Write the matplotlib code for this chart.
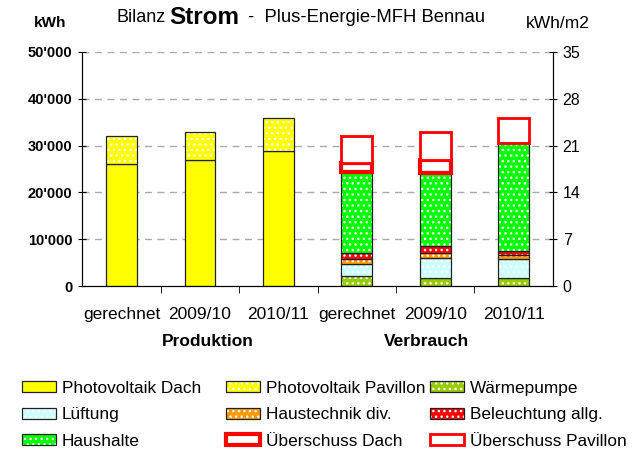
import matplotlib as mpl
mpl.use("Agg")
import numpy as np
from matplotlib import pyplot as plt
from matplotlib.patches import Patch
from matplotlib.legend_handler import HandlerTuple
from matplotlib.ticker import FuncFormatter

mpl.rcParams.update({"font.family": ["Liberation Sans", "DejaVu Sans"],
                     "hatch.linewidth": 1.0})

# categories
labels = ["gerechnet", "2009/10", "2010/11", "gerechnet", "2009/10", "2010/11"]
groups = ["Produktion", "Verbrauch"]

# production (kWh)
pv_dach = [26100, 26900, 28800, 0, 0, 0]
pv_pavillon = [5900, 6100, 7000, 0, 0, 0]

# consumption (kWh)
waermepumpe = [0, 0, 0, 2200, 1650, 1750]
lueftung = [0, 0, 0, 2450, 4300, 4150]
haustechnik = [0, 0, 0, 1050, 1050, 700]
beleuchtung = [0, 0, 0, 1300, 1550, 900]
haushalte = [0, 0, 0, 17300, 15650, 23100]
ueberschuss_dach = [0, 0, 0, 1900, 2700, 0]
ueberschuss_pavillon = [0, 0, 0, 5850, 6050, 5300]

x = np.arange(len(labels))
width = 0.39
EDGE = "#222222"
DOTS = "..."

fig = plt.figure(figsize=(6.37, 4.55), dpi=100)
ax = fig.add_axes([0.129, 0.371, 0.739, 0.515])

series = [
    (pv_dach, "#FFFF00", False, "Photovoltaik Dach"),
    (pv_pavillon, "#FFFF00", True, "Photovoltaik Pavillon"),
    (waermepumpe, "#99CC00", True, "Wärmepumpe"),
    (lueftung, "#CCFFFF", True, "Lüftung"),
    (haustechnik, "#FF9900", True, "Haustechnik div."),
    (beleuchtung, "#FF0000", True, "Beleuchtung allg."),
    (haushalte, "#00FF00", True, "Haushalte"),
]

handles = {}
bottom = np.zeros(len(labels))
for vals, col, dotted, name in series:
    vals = np.array(vals, dtype=float)
    m = vals > 0
    ax.bar(x[m], vals[m], width, bottom=bottom[m], color=col,
           linewidth=0, zorder=3)
    if dotted:
        ax.bar(x[m], vals[m], width, bottom=bottom[m], facecolor="none",
               edgecolor="white", linewidth=0, hatch=DOTS, zorder=3)
    ax.bar(x[m], vals[m], width, bottom=bottom[m], facecolor="none",
           edgecolor=EDGE, linewidth=0.9, zorder=3)
    parts = [Patch(facecolor=col, linewidth=0)]
    if dotted:
        parts.append(Patch(facecolor="none", edgecolor="white", linewidth=0, hatch=DOTS))
    parts.append(Patch(facecolor="none", edgecolor=EDGE, linewidth=0.9))
    handles[name] = tuple(parts)
    bottom = bottom + vals

# surplus boxes
for vals, lw, name in [(ueberschuss_dach, 3.0, "Überschuss Dach"),
                       (ueberschuss_pavillon, 2.0, "Überschuss Pavillon")]:
    vals = np.array(vals, dtype=float)
    m = vals > 0
    ax.bar(x[m], vals[m], width, bottom=bottom[m], facecolor="white",
           edgecolor="#FF0000", linewidth=lw, zorder=4)
    handles[name] = (Patch(facecolor="white", edgecolor="#FF0000", linewidth=lw),)
    bottom = bottom + vals

ax.set_xlim(-0.5, 5.5)
ax.set_ylim(0, 50000)
ax.set_yticks(np.arange(0, 50001, 10000))
ax.yaxis.set_major_formatter(FuncFormatter(lambda v, p: f"{int(v):,}".replace(",", "'")))
for t in ax.get_yticklabels():
    t.set_fontweight("bold")
ax.tick_params(axis="y", direction="inout", length=6, labelsize=10.5, pad=4)
for yv in range(10000, 50001, 10000):
    ax.axhline(yv, color="#AAAAAA", linestyle=(0, (5, 4)), linewidth=1.0, zorder=1)

ax.set_xticks(x)
ax.set_xticklabels(labels, fontsize=12.5)
ax.tick_params(axis="x", which="major", length=0, pad=15)
ax.set_xticks(np.arange(0.5, 5.0, 1.0), minor=True)
ax.tick_params(axis="x", which="minor", direction="out", length=5)
ax.spines["top"].set_visible(False)

ax2 = ax.twinx()
ax2.set_ylim(0, 35)
ax2.set_yticks(np.arange(0, 36, 7))
ax2.tick_params(axis="y", direction="inout", length=6, labelsize=11.5, pad=4)
ax2.spines["top"].set_visible(False)

# group labels
fig.text(208 / 637, 1 - 342 / 455, groups[0], ha="center", va="center",
         fontsize=12.5, fontweight="bold")
fig.text(427 / 637, 1 - 342 / 455, groups[1], ha="center", va="center",
         fontsize=12.5, fontweight="bold")

# title pieces and axis units
fig.text(117 / 637, 1 - 17 / 455, "Bilanz", fontsize=13, ha="left", va="center")
fig.text(169 / 637, 1 - 17 / 455, "Strom", fontsize=17.5, fontweight="bold", ha="left", va="center")
fig.text(248 / 637, 1 - 17 / 455, "-  Plus-Energie-MFH Bennau", fontsize=13.3, ha="left", va="center")
fig.text(50 / 637, 1 - 23 / 455, "kWh", fontsize=11, fontweight="bold", ha="center", va="center")
fig.text(558 / 637, 1 - 23 / 455, "kWh/m2", fontsize=12.5, ha="center", va="center")

columns = [["Photovoltaik Dach", "Lüftung", "Haushalte"],
           ["Photovoltaik Pavillon", "Haustechnik div.", "Überschuss Dach"],
           ["Wärmepumpe", "Beleuchtung allg.", "Überschuss Pavillon"]]
for col_x, names in zip([22, 226, 430], columns):
    fig.legend([handles[k] for k in names], names, loc="upper left",
               bbox_to_anchor=(col_x / 637, 1 - 381 / 455), frameon=False,
               fontsize=12.4, borderpad=0, borderaxespad=0,
               handler_map={tuple: HandlerTuple(ndivide=1, pad=0)},
               handlelength=1.95, handleheight=0.6, handletextpad=0.35,
               labelspacing=0.66)

fig.savefig("out.png", dpi=100)
